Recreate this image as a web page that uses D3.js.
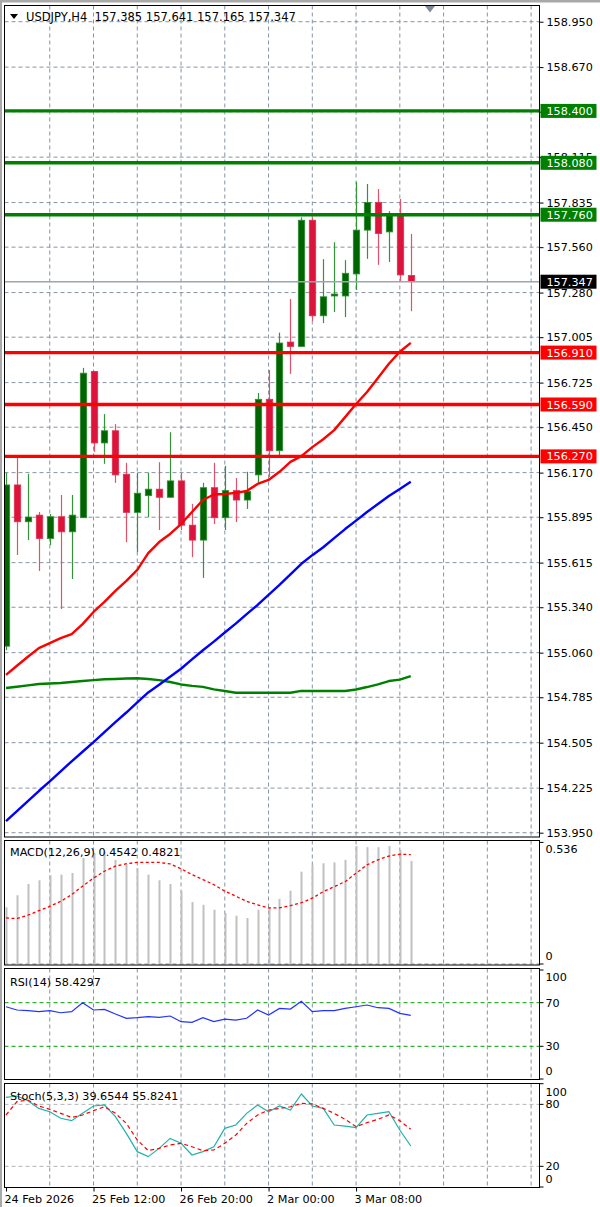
<!DOCTYPE html>
<html>
<head>
<meta charset="utf-8">
<script src="https://cdn.jsdelivr.net/npm/d3@7"></script>
<style>
body { margin: 0; background: #fff; }
svg { display: block; font-family: "DejaVu Sans", sans-serif; }
</style>
</head>
<body>
<div id="chart-area"></div>
<script>
//Data - USDJPY H4, 38 bars
var opens  = [155.100, 156.094, 155.867, 155.908, 155.764, 155.898, 155.805, 155.892, 156.793, 156.353, 156.428, 156.160, 155.925, 156.028, 156.068, 156.018, 156.119, 155.846, 155.754, 156.077, 155.892, 156.059, 156.001, 156.156, 156.622, 156.305, 156.975, 156.948, 157.726, 157.137, 157.259, 157.259, 157.395, 157.665, 157.836, 157.654, 157.762, 157.385];
var highs  = [156.169, 156.274, 156.162, 155.927, 155.915, 156.032, 156.032, 156.816, 156.797, 156.531, 156.469, 156.230, 156.169, 156.169, 156.234, 156.419, 156.169, 155.977, 156.107, 156.230, 156.212, 156.137, 156.175, 156.661, 156.803, 157.033, 157.240, 157.745, 157.743, 157.486, 157.590, 157.480, 157.962, 157.949, 157.918, 157.782, 157.857, 157.641];
var lows   = [155.075, 155.662, 155.754, 155.564, 155.723, 155.329, 155.514, 155.890, 156.298, 156.224, 156.107, 155.741, 155.680, 155.896, 155.816, 156.017, 155.816, 155.649, 155.521, 155.853, 155.816, 155.865, 155.946, 156.107, 156.144, 156.268, 156.779, 156.945, 157.104, 157.092, 157.160, 157.129, 157.296, 157.488, 157.451, 157.469, 157.352, 157.165];
var closes = [156.094, 155.867, 155.896, 155.764, 155.898, 155.805, 155.908, 156.783, 156.353, 156.428, 156.156, 155.925, 156.043, 156.068, 156.018, 156.119, 155.846, 155.754, 156.077, 155.892, 156.059, 156.001, 156.053, 156.622, 156.305, 156.969, 156.948, 157.726, 157.137, 157.254, 157.271, 157.399, 157.665, 157.836, 157.644, 157.762, 157.389, 157.347];

var maRed   = [154.923, 154.979, 155.035, 155.088, 155.119, 155.150, 155.174, 155.236, 155.311, 155.373, 155.441, 155.503, 155.570, 155.674, 155.742, 155.792, 155.853, 155.927, 156.001, 156.035, 156.038, 156.045, 156.057, 156.100, 156.125, 156.175, 156.236, 156.272, 156.327, 156.376, 156.432, 156.512, 156.593, 156.667, 156.754, 156.841, 156.915, 156.970];
var maBlue  = [154.021, 154.083, 154.145, 154.207, 154.266, 154.328, 154.390, 154.449, 154.508, 154.570, 154.632, 154.691, 154.753, 154.815, 154.862, 154.911, 154.961, 155.019, 155.075, 155.128, 155.184, 155.239, 155.298, 155.354, 155.416, 155.478, 155.543, 155.608, 155.661, 155.710, 155.766, 155.822, 155.874, 155.927, 155.977, 156.026, 156.069, 156.113];
var maGreen = [154.842, 154.850, 154.858, 154.867, 154.870, 154.873, 154.879, 154.885, 154.891, 154.896, 154.898, 154.901, 154.902, 154.898, 154.891, 154.879, 154.864, 154.855, 154.849, 154.834, 154.824, 154.813, 154.813, 154.813, 154.813, 154.813, 154.813, 154.824, 154.824, 154.824, 154.824, 154.824, 154.833, 154.848, 154.865, 154.885, 154.894, 154.916];

var macdMain   = [0.250, 0.303, 0.353, 0.369, 0.391, 0.394, 0.401, 0.467, 0.489, 0.494, 0.459, 0.441, 0.423, 0.394, 0.369, 0.353, 0.321, 0.273, 0.261, 0.239, 0.225, 0.213, 0.203, 0.239, 0.250, 0.287, 0.323, 0.407, 0.437, 0.444, 0.448, 0.459, 0.520, 0.515, 0.515, 0.520, 0.503, 0.4542];
var macdSignal = [0.203, 0.200, 0.215, 0.235, 0.254, 0.276, 0.306, 0.343, 0.379, 0.409, 0.431, 0.442, 0.448, 0.448, 0.448, 0.441, 0.420, 0.394, 0.372, 0.350, 0.321, 0.299, 0.276, 0.261, 0.247, 0.247, 0.257, 0.270, 0.290, 0.319, 0.341, 0.363, 0.400, 0.437, 0.459, 0.476, 0.484, 0.4821];

var rsiValues = [66.3, 63.3, 62.7, 61.8, 62.7, 60.8, 61.8, 70.0, 63.3, 63.9, 59.6, 55.7, 56.3, 57.2, 56.6, 57.8, 52.6, 52.0, 56.3, 52.6, 55.0, 54.1, 55.7, 63.3, 58.7, 64.8, 64.2, 71.3, 61.8, 62.7, 62.7, 64.8, 66.3, 67.9, 65.4, 64.8, 60.2, 58.4297];

var stochMain   = [86.8, 88.1, 83.6, 76.1, 72.9, 66.5, 64.2, 71.3, 78.4, 79.4, 68.1, 51.9, 34.2, 29.4, 37.4, 47.1, 42.3, 31.0, 34.2, 39.0, 56.8, 60.0, 71.3, 79.4, 72.9, 78.4, 74.5, 90.0, 78.4, 76.1, 60.0, 59.0, 57.4, 69.7, 71.3, 72.9, 55.2, 39.6544];
var stochSignal = [69.7, 82.6, 84.2, 78.4, 75.2, 71.3, 67.4, 69.7, 73.9, 77.7, 71.3, 61.6, 45.5, 35.2, 37.4, 40.7, 42.3, 39.0, 35.2, 35.8, 42.3, 50.3, 61.6, 69.7, 74.5, 76.1, 77.7, 81.0, 80.4, 76.1, 71.3, 65.5, 58.4, 62.3, 65.5, 69.7, 64.2, 55.8241];

var resistLevels  = [158.400, 158.080, 157.760];
var supportLevels = [156.910, 156.590, 156.270];

var priceTicks = ['158.950', '158.670', '158.395', '158.115', '157.835', '157.560', '157.280', '157.005', '156.725', '156.450', '156.170', '155.895', '155.615', '155.340', '155.060', '154.785', '154.505', '154.225', '153.950'];
var timeIdx    = [0, 8, 16, 24, 32];
var timeLabels = ['24 Feb 2026', '25 Feb 12:00', '26 Feb 20:00', '2 Mar 00:00', '3 Mar 08:00'];
var macdTicks  = ['0.536', '0'];
var rsiTicks   = ['100', '70', '30', '0'];
var rsiLevels  = [70, 30];
var stochTicks = ['100', '80', '20', '0'];
var stochLevels = [80, 20];

//Layout
var W = 600, H = 1207;
var left = 4.5, right = 539.5;
var mainP  = {top: 5.5,    bottom: 837};
var macdP  = {top: 840.5,  bottom: 965};
var rsiP   = {top: 968.5,  bottom: 1079.5};
var stochP = {top: 1083.5, bottom: 1187.5};
var FS = '11.2px';
var gridColor = '#8794a2';

var svg = d3.select('#chart-area')
    .append('svg')
        .attr('width', W)
        .attr('height', H);

//Scales
var x = d3.scaleLinear().domain([0, 48]).range([6, 531.1]);
var y = d3.scaleLinear().domain([153.9235, 159.0499]).range([mainP.bottom, mainP.top]);
var yMacd = d3.scaleLinear().domain([0, 0.536]).range([964, 842.4]);
var yRsi = d3.scaleLinear().domain([0, 100]).range([1079, 970]);
var yStoch = d3.scaleLinear().domain([0, 100]).range([1187, 1083.7]);

//window frame
svg.append('rect').attr('x', 0).attr('y', 0).attr('width', W).attr('height', 2.5).attr('fill', '#a9a9a9');
svg.append('rect').attr('x', 0).attr('y', 0).attr('width', 2).attr('height', H).attr('fill', '#a9a9a9');

//panels with vertical grid
var vGrid = d3.range(4, 49, 4);
function panel(p) {
    var g = svg.append('g');
    g.append('rect')
        .attr('x', left).attr('y', p.top)
        .attr('width', right - left).attr('height', p.bottom - p.top)
        .attr('fill', '#fff');
    g.selectAll('line.vg')
        .data(vGrid)
        .enter().append('line')
            .attr('class', 'vg')
            .attr('x1', function(d){ return x(d); })
            .attr('x2', function(d){ return x(d); })
            .attr('y1', p.top).attr('y2', p.bottom)
            .attr('stroke', gridColor)
            .attr('stroke-dasharray', '4,3');
    return g;
}
function border(p) {
    svg.append('rect')
        .attr('x', left).attr('y', p.top)
        .attr('width', right - left).attr('height', p.bottom - p.top)
        .attr('fill', 'none').attr('stroke', '#000').attr('stroke-width', 1);
}

var gMain = panel(mainP);
var gMacd = panel(macdP);
var gRsi = panel(rsiP);
var gStoch = panel(stochP);

//Main: horizontal grid
gMain.selectAll('line.hg')
    .data(priceTicks)
    .enter().append('line')
        .attr('x1', left).attr('x2', right)
        .attr('y1', function(d){ return y(+d); })
        .attr('y2', function(d){ return y(+d); })
        .attr('stroke', gridColor)
        .attr('stroke-dasharray', '4,3');

svg.append('clipPath').attr('id', 'clipMain')
    .append('rect')
        .attr('x', left + 0.5).attr('y', mainP.top)
        .attr('width', right - left - 1).attr('height', mainP.bottom - mainP.top);

var plot = svg.append('g').attr('clip-path', 'url(#clipMain)');

//Candles
var idx = d3.range(closes.length);
var bull = function(i){ return closes[i] >= opens[i]; };

plot.selectAll('line.wick')
    .data(idx)
    .enter().append('line')
        .attr('x1', function(i){ return Math.round(x(i)) + 0.5; })
        .attr('x2', function(i){ return Math.round(x(i)) + 0.5; })
        .attr('y1', function(i){ return y(highs[i]); })
        .attr('y2', function(i){ return y(lows[i]); })
        .attr('stroke', function(i){ return bull(i) ? '#33943a' : '#e4506a'; })
        .attr('stroke-width', 1.2);

plot.selectAll('rect.body')
    .data(idx)
    .enter().append('rect')
        .attr('x', function(i){ return Math.round(x(i)) + 0.5 - 3.2; })
        .attr('width', 6.4)
        .attr('y', function(i){ return y(Math.max(opens[i], closes[i])); })
        .attr('height', function(i){ return Math.max(1.5, Math.abs(y(opens[i]) - y(closes[i]))); })
        .attr('fill', function(i){ return bull(i) ? '#006400' : '#dc143c'; })
        .attr('stroke', function(i){ return bull(i) ? '#2f8f35' : '#e03050'; })
        .attr('stroke-width', 0.8);

//Moving averages
function maLine(data, color) {
    plot.append('path')
        .datum(data)
        .attr('fill', 'none')
        .attr('stroke', color)
        .attr('stroke-width', 2.4)
        .attr('stroke-linejoin', 'round')
        .attr('d', d3.line().x(function(d, i){ return x(i); }).y(function(d){ return y(d); }));
}
maLine(maGreen, '#008000');
maLine(maBlue, '#0000ff');
maLine(maRed, '#ff0000');

//Horizontal levels
plot.selectAll('line.res')
    .data(resistLevels)
    .enter().append('line')
        .attr('x1', left).attr('x2', right)
        .attr('y1', function(d){ return y(d); })
        .attr('y2', function(d){ return y(d); })
        .attr('stroke', '#008000')
        .attr('stroke-width', 3.4);

plot.selectAll('line.sup')
    .data(supportLevels)
    .enter().append('line')
        .attr('x1', left).attr('x2', right)
        .attr('y1', function(d){ return y(d); })
        .attr('y2', function(d){ return y(d); })
        .attr('stroke', '#ff0000')
        .attr('stroke-width', 3.4);

//Current price line
var lastPrice = closes[closes.length - 1];
plot.append('line')
    .attr('x1', left).attr('x2', right)
    .attr('y1', y(lastPrice)).attr('y2', y(lastPrice))
    .attr('stroke', '#9ba6b2')
    .attr('stroke-width', 1.6);

//Header
svg.append('path')
    .attr('d', 'M10,14L18,14L14,19Z')
    .attr('fill', '#000');
svg.append('text')
    .attr('x', 26).attr('y', 17)
    .attr('dy', '0.35em')
    .attr('font-size', '11.5px')
    .attr('fill', '#000')
    .attr('xml:space', 'preserve')
    .text('USDJPY,H4  ' + [opens, highs, lows, closes].map(function(a){ return a[a.length - 1].toFixed(3); }).join(' '));

//shift marker
svg.append('path')
    .attr('d', 'M425,6L435,6L430,12.5Z')
    .attr('fill', '#7f8b98');

//Price axis
var yAxisCall = d3.axisRight(y)
    .tickValues(priceTicks.map(Number))
    .tickFormat(function(d, i){ return priceTicks[i]; })
    .tickSize(4)
    .tickSizeOuter(0)
    .tickPadding(3);
var gAxis = svg.append('g')
    .attr('transform', 'translate(' + right + ',0)')
    .call(yAxisCall);
gAxis.select('.domain').remove();
gAxis.selectAll('text')
    .attr('font-size', FS)
    .attr('font-family', '"DejaVu Sans", sans-serif')
    .attr('fill', '#000');

//Level boxes
function levelBox(v, fill) {
    svg.append('rect')
        .attr('x', right + 1).attr('y', y(v) - 7)
        .attr('width', 56).attr('height', 14)
        .attr('fill', fill);
    svg.append('text')
        .attr('x', right + 7).attr('y', y(v))
        .attr('dy', '0.36em')
        .attr('font-size', FS)
        .attr('fill', '#fff')
        .text(v.toFixed(3));
}
resistLevels.forEach(function(v){ levelBox(v, '#008000'); });
supportLevels.forEach(function(v){ levelBox(v, '#ff0000'); });
levelBox(lastPrice, '#000');

//MACD
gMacd.append('line')
    .attr('x1', left).attr('x2', right)
    .attr('y1', yMacd(0)).attr('y2', yMacd(0))
    .attr('stroke', gridColor).attr('stroke-dasharray', '4,3');
gMacd.selectAll('line.hist')
    .data(macdMain)
    .enter().append('line')
        .attr('x1', function(d, i){ return Math.round(x(i)) + 0.5; })
        .attr('x2', function(d, i){ return Math.round(x(i)) + 0.5; })
        .attr('y1', yMacd(0))
        .attr('y2', function(d){ return yMacd(d); })
        .attr('stroke', '#c0c0c0')
        .attr('stroke-width', 2);
gMacd.append('path')
    .datum(macdSignal)
    .attr('fill', 'none')
    .attr('stroke', '#ff0000')
    .attr('stroke-width', 1.3)
    .attr('stroke-dasharray', '3,2.5')
    .attr('d', d3.line().x(function(d, i){ return x(i); }).y(function(d){ return yMacd(d); }));

//RSI
gRsi.selectAll('line.lvl')
    .data(rsiLevels)
    .enter().append('line')
        .attr('x1', left).attr('x2', right)
        .attr('y1', function(d){ return yRsi(d); })
        .attr('y2', function(d){ return yRsi(d); })
        .attr('stroke', '#00a000')
        .attr('stroke-dasharray', '4,3');
gRsi.append('path')
    .datum(rsiValues)
    .attr('fill', 'none')
    .attr('stroke', '#2233ff')
    .attr('stroke-width', 1.2)
    .attr('d', d3.line().x(function(d, i){ return x(i); }).y(function(d){ return yRsi(d); }));

//Stochastic
gStoch.selectAll('line.lvl')
    .data(stochLevels)
    .enter().append('line')
        .attr('x1', left).attr('x2', right)
        .attr('y1', function(d){ return yStoch(d); })
        .attr('y2', function(d){ return yStoch(d); })
        .attr('stroke', '#b4b4b4')
        .attr('stroke-dasharray', '4,3');
gStoch.append('path')
    .datum(stochMain)
    .attr('fill', 'none')
    .attr('stroke', '#20b2aa')
    .attr('stroke-width', 1.2)
    .attr('d', d3.line().x(function(d, i){ return x(i); }).y(function(d){ return yStoch(d); }));
gStoch.append('path')
    .datum(stochSignal)
    .attr('fill', 'none')
    .attr('stroke', '#ff0000')
    .attr('stroke-width', 1.2)
    .attr('stroke-dasharray', '4,3')
    .attr('d', d3.line().x(function(d, i){ return x(i); }).y(function(d){ return yStoch(d); }));

//Borders on top
[mainP, macdP, rsiP, stochP].forEach(border);

//Indicator names
function last(a) { return a[a.length - 1].toFixed(4); }
function label(txt, yy) {
    svg.append('text')
        .attr('x', 10).attr('y', yy)
        .attr('dy', '0.35em')
        .attr('font-size', FS)
        .attr('fill', '#000')
        .text(txt);
}
label('MACD(12,26,9) ' + last(macdMain) + ' ' + last(macdSignal), 852);
label('RSI(14) ' + last(rsiValues), 982);
label('Stoch(5,3,3) ' + last(stochMain) + ' ' + last(stochSignal), 1096);

//Indicator axes
function sideAxis(ticks, scale, p) {
    ticks.forEach(function(t) {
        var ty = scale(+t);
        svg.append('line')
            .attr('x1', right).attr('x2', right + 4)
            .attr('y1', ty).attr('y2', ty)
            .attr('stroke', '#000');
        svg.append('text')
            .attr('x', right + 6)
            .attr('y', Math.min(Math.max(ty, p.top + 9), p.bottom - 8.5))
            .attr('dy', '0.35em')
            .attr('font-size', FS)
            .attr('fill', '#000')
            .text(t);
    });
}
sideAxis(macdTicks, yMacd, macdP);
sideAxis(rsiTicks, yRsi, rsiP);
sideAxis(stochTicks, yStoch, stochP);

//Time axis
var xAxisCall = d3.axisBottom(x)
    .tickValues(timeIdx)
    .tickFormat(function(d, i){ return timeLabels[i]; })
    .tickSize(4)
    .tickSizeOuter(0);
var gx = svg.append('g')
    .attr('transform', 'translate(0,' + stochP.bottom + ')')
    .call(xAxisCall);
gx.select('.domain').remove();
gx.selectAll('text')
    .attr('text-anchor', 'start')
    .attr('x', -2)
    .attr('y', 8)
    .attr('font-size', FS)
    .attr('font-family', '"DejaVu Sans", sans-serif')
    .attr('fill', '#000');
</script>
</body>
</html>
